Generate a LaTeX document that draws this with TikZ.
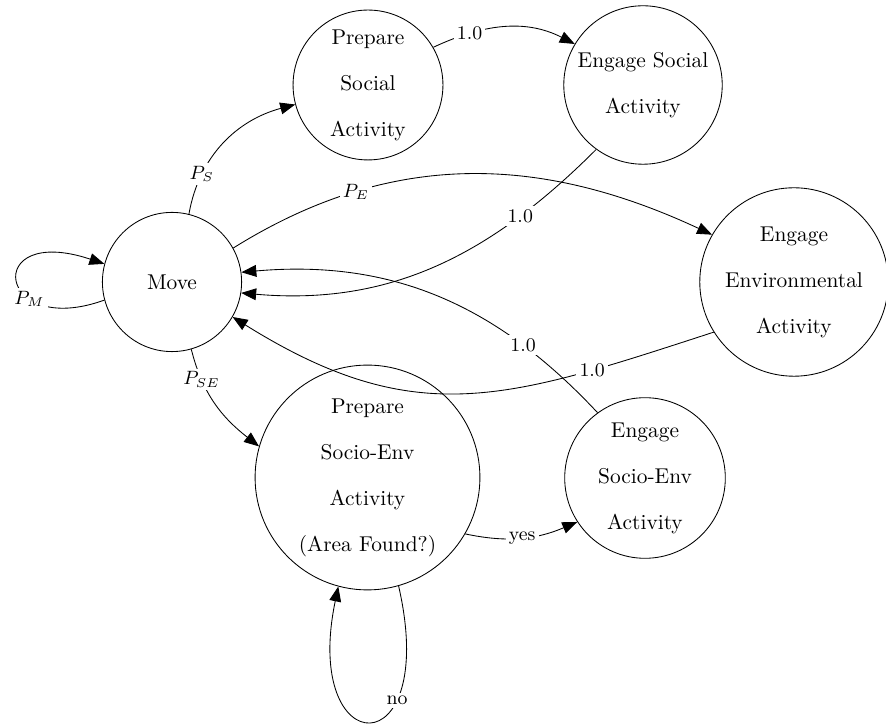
\documentclass[tikz,border=0pt]{standalone}
\usetikzlibrary{arrows.meta}
\begin{document}
\begin{tikzpicture}[x=0.467pt, y=0.467pt, >={Triangle[length=7pt,width=5.5pt]},
    activity/.style={circle, draw, align=center, inner sep=2pt},
    prob/.style={fill=white, inner sep=1.5pt, font=\small}]
    \useasboundingbox (0,0) rectangle (886,728);
    % States
    \node[activity, minimum size=65pt] (move) at (172,446) {Move};
    \node[activity, minimum size=70pt] (prepS) at (368,643) {Prepare\\[9.5pt]Social\\[9.5pt]Activity};
    \node[activity, minimum size=74pt] (engS) at (643,643) {Engage Social\\[9.5pt]Activity};
    \node[activity, minimum size=88pt] (engE) at (794,446) {Engage\\[9.5pt]Environmental\\[9.5pt]Activity};
    \node[activity, minimum size=105pt] (prepSE) at (367.5,250.5) {Prepare\\[9.5pt]Socio-Env\\[9.5pt]Activity\\[9.5pt](Area Found?)};
    \node[activity, minimum size=75pt] (engSE) at (645,250) {Engage\\[9.5pt]Socio-Env\\[9.5pt]Activity};
    % Transitions from Move
    \draw[->] (move.76) to[out=80, in=195] node[prob, pos=0.25] {$P_S$} (prepS.195);
    \draw[->] (move.29) to[out=32, in=155] node[prob, pos=0.26] {$P_E$} (engE.150);
    \draw[->] (move.286) to[out=284, in=142] node[prob, pos=0.25] {$P_{SE}$} (prepSE.164);
    \draw[->] (move.195) .. controls +(-108,-39) and +(-123,41) .. node[prob, pos=0.33] {$P_M$} (move.165);
    % Prepare -> Engage
    \draw[->] (prepS.30) to[out=25, in=153] node[prob, pos=0.25] {1.0} (engS.149);
    \draw[->] (prepSE.330) to[out=-12, in=203] node[prob] {yes} (engSE.213);
    \draw[->] (prepSE.286) .. controls +(42,-183) and +(-37,-177) .. node[prob, pos=0.3] {no} (prepSE.255);
    % Back to Move
    \foreach \src/\a/\b/\o/\i/\l/\p in {engS/234/-9/225/-5/1/0.24, engSE/126/8/133/5/1/0.24, engE/212/330/198/-32/1.15/0.22}
        \draw[->] (\src.\a) to[out=\o, in=\i, looseness=\l] node[prob, pos=\p] {1.0} (move.\b);
\end{tikzpicture}
\end{document}
